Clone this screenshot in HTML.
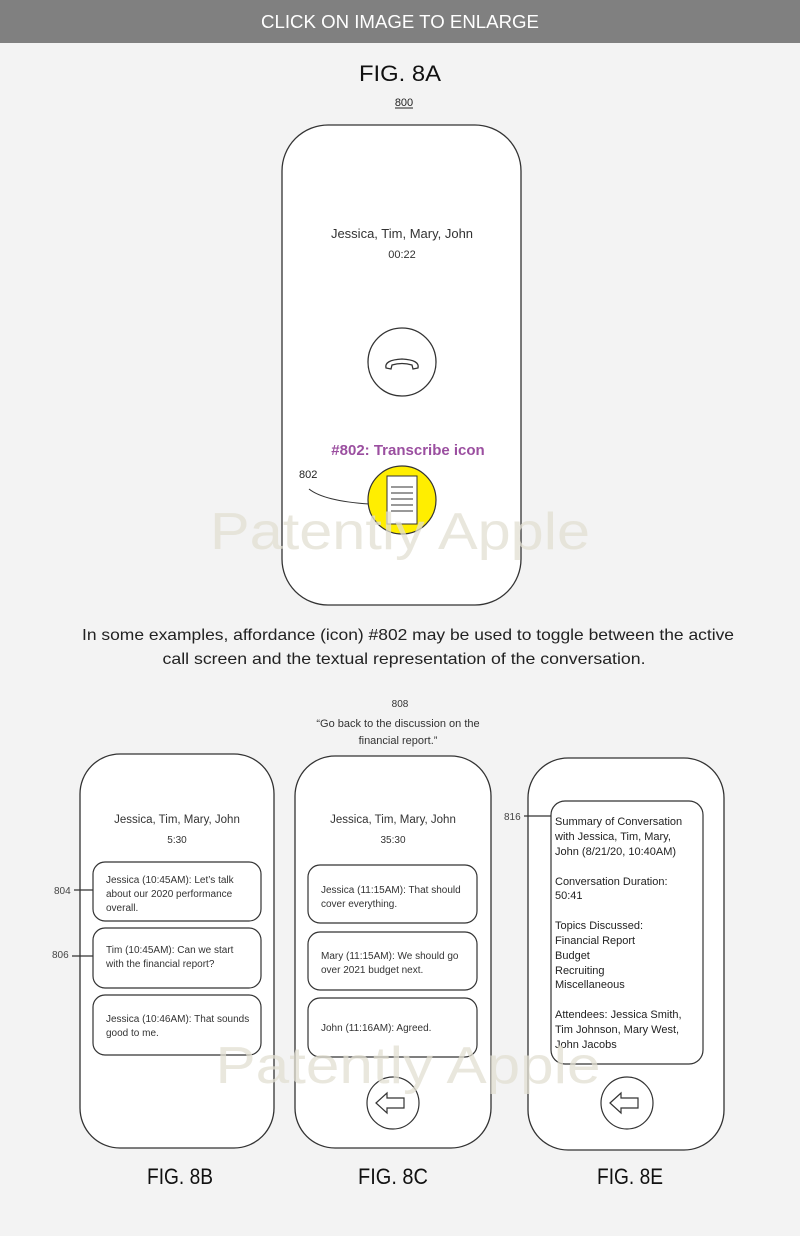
<!DOCTYPE html>
<html><head><meta charset="utf-8"><style>
html,body{margin:0;padding:0;background:#f3f3f3;}
svg{display:block;}
text{font-family:"Liberation Sans",sans-serif;}
</style></head><body>
<svg width="800" height="1236" viewBox="0 0 800 1236" xmlns="http://www.w3.org/2000/svg">
<rect width="800" height="1236" fill="#f3f3f3"/>
<rect width="800" height="43" fill="#808080"/>
<text x="400" y="28" font-size="18" fill="#fff" text-anchor="middle" textLength="278" lengthAdjust="spacingAndGlyphs">CLICK ON IMAGE TO ENLARGE</text>
<text x="400" y="81" font-size="22" fill="#111" text-anchor="middle" textLength="82" lengthAdjust="spacingAndGlyphs">FIG. 8A</text>
<text x="404" y="106" font-size="11" fill="#222" text-anchor="middle">800</text>
<line x1="395" y1="108" x2="413" y2="108" stroke="#222" stroke-width="1"/>

<g stroke="#333" stroke-width="1.3" fill="#fff">
<rect x="282" y="125" width="239" height="480" rx="46"/>
<rect x="80" y="754" width="194" height="394" rx="40"/>
<rect x="295" y="756" width="196" height="392" rx="40"/>
<rect x="528" y="758" width="196" height="392" rx="40"/>
</g>

<g font-size="13" fill="#333" text-anchor="middle">
<text x="402" y="238">Jessica, Tim, Mary, John</text>
<text x="402" y="258" font-size="11">00:22</text>
</g>
<circle cx="402" cy="362" r="34" fill="#fff" stroke="#333" stroke-width="1.3"/>
<path d="M386 368 q-2 -8 16 -9 q18 1 16 9 l-5 1 l-1 -4 q-10 -3 -20 0 l-1 4 z" fill="none" stroke="#333" stroke-width="1.3"/>
<text x="408" y="455" font-size="15" font-weight="bold" fill="#9b4fa0" text-anchor="middle">#802: Transcribe icon</text>
<text x="299" y="478" font-size="11" fill="#222">802</text>
<path d="M309 489 q15 12 60 15" fill="none" stroke="#333" stroke-width="1.1"/>
<circle cx="402" cy="500" r="34" fill="#ffee00" stroke="#333" stroke-width="1.2"/>
<rect x="387" y="476" width="30" height="48" fill="#fff" stroke="#333" stroke-width="1"/>
<g stroke="#333" stroke-width="1"><line x1="391" y1="487" x2="413" y2="487"/><line x1="391" y1="493" x2="413" y2="493"/><line x1="391" y1="499" x2="413" y2="499"/><line x1="391" y1="505" x2="413" y2="505"/><line x1="391" y1="511" x2="413" y2="511"/></g>

<text x="400" y="549" font-size="52" fill="#e2dfd2" fill-opacity="0.75" text-anchor="middle" textLength="380" lengthAdjust="spacingAndGlyphs">Patently Apple</text>

<text x="408" y="640" font-size="16" fill="#222" text-anchor="middle" textLength="652" lengthAdjust="spacingAndGlyphs">In some examples, affordance (icon) #802 may be used to toggle between the active</text>
<text x="404" y="664" font-size="16" fill="#222" text-anchor="middle" textLength="483" lengthAdjust="spacingAndGlyphs">call screen and the textual representation of the conversation.</text>

<g fill="#333" text-anchor="middle">
<text x="400" y="707" font-size="10">808</text>
<text x="398" y="727" font-size="11">“Go back to the discussion on the</text>
<text x="398" y="744" font-size="11">financial report.”</text>
</g>

<g stroke="#333" stroke-width="1.2" fill="#fff">
<rect x="93" y="862" width="168" height="59" rx="12"/>
<rect x="93" y="928" width="168" height="60" rx="12"/>
<rect x="93" y="995" width="168" height="60" rx="12"/>
<rect x="308" y="865" width="169" height="58" rx="12"/>
<rect x="308" y="932" width="169" height="58" rx="12"/>
<rect x="308" y="998" width="169" height="59" rx="12"/>
<rect x="551" y="801" width="152" height="263" rx="14"/>
<circle cx="393" cy="1103" r="26"/>
<circle cx="627" cy="1103" r="26"/>
</g>
<g fill="none" stroke="#333" stroke-width="1.2">
<path d="M376 1103 l11 -10 v5 h17 v10 h-17 v5 z"/>
<path d="M610 1103 l11 -10 v5 h17 v10 h-17 v5 z"/>
<path d="M74 890 h19"/><path d="M72 956 h21"/><path d="M524 816 h27"/>
</g>
<g font-size="10" fill="#444"><text x="54" y="894">804</text><text x="52" y="958">806</text><text x="504" y="820">816</text></g>

<g font-size="11.5" fill="#333" text-anchor="middle">
<text x="177" y="823">Jessica, Tim, Mary, John</text>
<text x="177" y="843" font-size="10">5:30</text>
<text x="393" y="823">Jessica, Tim, Mary, John</text>
<text x="393" y="843" font-size="10">35:30</text>
</g>
<g font-size="10" fill="#333">
<text x="106" y="883">Jessica (10:45AM): Let’s talk</text>
<text x="106" y="897">about our 2020 performance</text>
<text x="106" y="911">overall.</text>
<text x="106" y="953">Tim (10:45AM): Can we start</text>
<text x="106" y="967">with the financial report?</text>
<text x="106" y="1022">Jessica (10:46AM): That sounds</text>
<text x="106" y="1036">good to me.</text>
<text x="321" y="893">Jessica (11:15AM): That should</text>
<text x="321" y="907">cover everything.</text>
<text x="321" y="959">Mary (11:15AM): We should go</text>
<text x="321" y="973">over 2021 budget next.</text>
<text x="321" y="1031">John (11:16AM): Agreed.</text>
</g>
<g font-size="11" fill="#222">
<text x="555" y="825">Summary of Conversation</text>
<text x="555" y="840">with Jessica, Tim, Mary,</text>
<text x="555" y="855">John (8/21/20, 10:40AM)</text>
<text x="555" y="885">Conversation Duration:</text>
<text x="555" y="899">50:41</text>
<text x="555" y="929">Topics Discussed:</text>
<text x="555" y="944">Financial Report</text>
<text x="555" y="959">Budget</text>
<text x="555" y="974">Recruiting</text>
<text x="555" y="988">Miscellaneous</text>
<text x="555" y="1018">Attendees: Jessica Smith,</text>
<text x="555" y="1033">Tim Johnson, Mary West,</text>
<text x="555" y="1048">John Jacobs</text>
</g>

<text x="408" y="1083" font-size="52" fill="#e2dfd2" fill-opacity="0.75" text-anchor="middle" textLength="385" lengthAdjust="spacingAndGlyphs">Patently Apple</text>

<g font-size="22" fill="#111" text-anchor="middle">
<text x="180" y="1184" textLength="66" lengthAdjust="spacingAndGlyphs">FIG. 8B</text>
<text x="393" y="1184" textLength="70" lengthAdjust="spacingAndGlyphs">FIG. 8C</text>
<text x="630" y="1184" textLength="66" lengthAdjust="spacingAndGlyphs">FIG. 8E</text>
</g>
</svg>
</body></html>
